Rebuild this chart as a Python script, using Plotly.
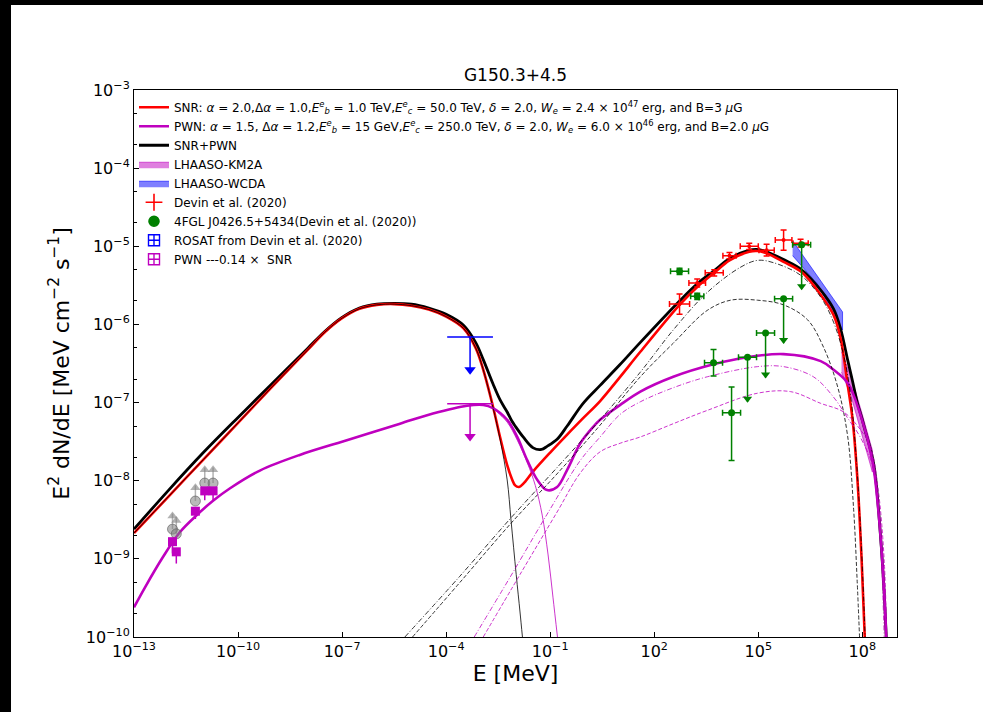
import numpy as np
import plotly.graph_objects as go

# All model curves and data are given as log10(E / MeV) and log10(E^2 dN/dE / MeV cm^-2 s^-1)

# ---- SNR model (total) ----
snr_log_e = [-13.0, -12.0, -11.0, -10.0, -9.0, -8.5, -8.0, -7.5, -7.0, -6.5, -6.0, -5.5, -5.0, -4.5,
             -4.0, -3.5, -3.15, -2.93, -2.65, -2.44, -2.24, -2.10, -2.01, -1.90, -1.78, -1.49,
             -1.00, -0.51, -0.05, 0.44, 1.00, 1.60, 2.73, 3.24, 3.73, 4.17, 4.74, 4.98, 5.24, 5.73,
             6.25, 6.80, 7.17, 7.37, 7.58, 7.72, 7.86, 7.98, 8.07]
snr_log_f = [-8.67, -8.20, -7.73, -7.26, -6.79, -6.56, -6.33, -6.10, -5.92, -5.80, -5.75, -5.74,
             -5.76, -5.81, -5.90, -6.05, -6.30, -6.58, -7.05, -7.45, -7.80, -7.98, -8.06, -8.08,
             -8.04, -7.88, -7.64, -7.41, -7.20, -6.98, -6.68, -6.35, -5.75, -5.52, -5.34, -5.18,
             -5.07, -5.06, -5.09, -5.20, -5.33, -5.62, -5.88, -6.17, -6.78, -7.22, -7.99, -9.01,
             -10.0]

# ---- PWN model (total) ----
pwn_log_e = [-13.0, -12.69, -12.17, -11.68, -11.19, -10.73, -10.24, -9.37, -8.22, -6.77, -5.33,
             -4.38, -3.40, -2.93, -2.65, -2.24, -1.95, -1.66, -1.37, -1.09, -0.80, -0.51, -0.13,
             0.24, 0.44, 1.02, 1.60, 2.55, 3.71, 4.69, 5.73, 6.80, 7.17, 7.58, 7.95, 8.29, 8.46,
             8.61, 8.69]
pwn_log_f = [-9.62, -9.37, -8.98, -8.66, -8.44, -8.26, -8.10, -7.87, -7.67, -7.47, -7.27,
             -7.14, -7.04, -7.03, -7.07, -7.22, -7.44, -7.74, -7.99, -8.12, -8.08, -7.86, -7.52,
             -7.31, -7.22, -7.03, -6.86, -6.67, -6.51, -6.42, -6.38, -6.47, -6.58, -6.75, -7.16,
             -7.74, -8.37, -9.27, -10.0]

# ---- SNR + PWN ----
tot_log_e = [-13.0, -12.0, -11.0, -10.0, -9.0, -8.5, -8.0, -7.5, -7.0, -6.5, -6.0, -5.5, -5.0, -4.5,
             -4.0, -3.5, -3.15, -2.93, -2.65, -2.44, -2.24, -2.10, -2.01, -1.78, -1.49, -1.25,
             -1.09, -0.80, -0.51, -0.05, 0.44, 1.00, 1.60, 2.73, 3.24, 3.73, 4.17, 4.74, 4.98,
             5.24, 5.73, 6.25, 6.80, 7.17, 7.37, 7.58, 7.72, 7.86, 7.98, 8.07, 8.29, 8.38, 8.49,
             8.61, 8.69]
tot_log_f = [-8.62, -8.12, -7.64, -7.19, -6.75, -6.53, -6.31, -6.09, -5.91, -5.79, -5.74, -5.73,
             -5.74, -5.79, -5.87, -6.01, -6.23, -6.45, -6.76, -6.97, -7.12, -7.24, -7.30, -7.44,
             -7.58, -7.60, -7.56, -7.47, -7.30, -7.01, -6.78, -6.52, -6.23, -5.70, -5.48, -5.31,
             -5.16, -5.05, -5.04, -5.07, -5.17, -5.30, -5.56, -5.80, -6.05, -6.46, -6.73, -7.01,
             -7.19, -7.34, -7.70, -7.95, -8.50, -9.27, -10.0]

# ---- SNR components ----
snr_syn_log_e = [-13.0, -12.0, -11.0, -10.0, -9.0, -8.5, -8.0, -7.5, -7.0, -6.5, -6.0, -5.5, -5.0,
                 -4.5, -4.0, -3.5, -3.15, -2.93, -2.65, -2.44, -2.24, -2.13, -1.98, -1.87, -1.80]
snr_syn_log_f = [-8.67, -8.20, -7.73, -7.26, -6.79, -6.56, -6.33, -6.10, -5.92, -5.80, -5.75, -5.74,
                 -5.76, -5.81, -5.90, -6.05, -6.30, -6.58, -7.06, -7.48, -7.99, -8.50, -9.20, -9.68,
                 -10.0]
snr_ic1_log_e = [-5.19, -3.60, -2.10, -0.86, 0.36, 1.60, 2.55, 3.53, 4.48, 4.98, 5.44, 6.22, 6.80,
                 7.17, 7.46, 7.66, 7.83, 7.95, 8.04, 8.08]
snr_ic1_log_f = [-10.0, -9.22, -8.46, -7.86, -7.26, -6.61, -6.07, -5.59, -5.27, -5.18, -5.21,
                 -5.37, -5.65, -5.97, -6.39, -6.90, -7.74, -8.63, -9.53, -10.0]
snr_ic2_log_e = [-4.97, -3.60, -2.10, -0.86, 0.36, 1.60, 2.55, 3.53, 4.20, 4.98, 5.73, 6.42, 6.88,
                 7.29, 7.58, 7.75, 7.85, 7.92]
snr_ic2_log_f = [-10.0, -9.30, -8.53, -7.94, -7.33, -6.67, -6.24, -5.82, -5.69, -5.69, -5.75,
                 -5.94, -6.29, -6.80, -7.44, -8.37, -9.27, -10.0]

# ---- PWN components ----
pwn_syn_log_e = [-13.0, -12.69, -12.17, -11.68, -11.19, -10.73, -10.24, -9.37, -8.22, -6.77, -5.33,
                 -4.38, -3.40, -2.93, -2.65, -2.53, -2.24, -1.95, -1.66, -1.43, -1.23, -1.06,
                 -0.92, -0.79]
pwn_syn_log_f = [-9.62, -9.37, -8.98, -8.66, -8.44, -8.26, -8.10, -7.87, -7.67, -7.47, -7.27,
                 -7.14, -7.04, -7.03, -7.07, -7.12, -7.25, -7.48, -7.77, -8.06, -8.44, -8.95,
                 -9.49, -10.0]
pwn_ic1_log_e = [-3.19, -2.15, -1.09, -0.13, 0.44, 1.02, 1.60, 2.55, 3.53, 4.98, 5.73, 6.59, 7.17,
                 7.58, 7.95, 8.32, 8.49, 8.63]
pwn_ic1_log_f = [-10.0, -9.23, -8.43, -7.74, -7.44, -7.15, -6.99, -6.81, -6.67, -6.54, -6.54,
                 -6.67, -6.93, -7.20, -7.45, -7.84, -8.50, -10.0]
pwn_ic2_log_e = [-2.93, -1.87, -0.80, -0.13, 0.44, 1.02, 1.60, 2.55, 3.53, 4.98, 5.93, 6.80, 7.46,
                 7.95, 8.24, 8.46, 8.63, 8.70]
pwn_ic2_log_f = [-10.0, -9.20, -8.40, -7.90, -7.63, -7.52, -7.44, -7.27, -7.10, -6.88, -6.86,
                 -7.01, -7.12, -7.35, -7.57, -8.12, -9.01, -10.0]

# ---- LHAASO bands ----
km2a_log_e = [7.40, 7.69, 7.98, 8.29]
km2a_log_hi = [-6.35, -6.69, -7.12, -7.61]
km2a_log_lo = [-6.61, -6.94, -7.38, -7.89]
wcda_log_e = [5.99, 6.70, 7.43]
wcda_log_hi = [-4.93, -5.38, -5.84]
wcda_log_lo = [-5.12, -5.48, -6.07]

# ---- Devin et al. (2020) Fermi-LAT points ----
devin_log_e = [2.73, 3.24, 3.73, 4.17, 4.74, 5.24, 5.73, 6.22]
devin_log_f = [-5.74, -5.47, -5.34, -5.12, -5.00, -5.05, -4.92, -4.96]
devin_dex_e = [0.29, 0.24, 0.26, 0.19, 0.26, 0.22, 0.24, 0.22]
devin_dex_f = [0.13, 0.05, 0.04, 0.04, 0.04, 0.075, 0.13, 0.05]

# ---- 4FGL J0426.5+5434 ----
fgl_log_e = [2.73, 3.24, 3.71, 4.23]
fgl_log_f = [-5.32, -5.64, -6.49, -7.13]
fgl_dex_e = [0.26, 0.19, 0.26, 0.26]
fgl_dex_up = [0.04, 0.04, 0.17, 0.33]
fgl_dex_dn = [0.04, 0.04, 0.17, 0.61]
fgl_ul_log_e = [4.69, 5.21, 5.73, 6.25]
fgl_ul_log_f = [-6.42, -6.11, -5.67, -4.98]
fgl_ul_dex_e = [0.26, 0.26, 0.26, 0.26]

# ---- ROSAT upper limit ----
rosat_log_e = [-3.31]
rosat_log_f = [-6.16]
rosat_dex_e = [0.66]
pwn_fraction = 0.14

# ---- radio points ----
radio_log_e = [-11.89, -11.78, -11.23, -10.96, -10.72]
radio_lim_log_f = [-8.62, -8.68, -8.26, -8.03, -8.03]
radio_pwn_log_f = [-8.78, -8.91, -8.39, -8.13, -8.13]
radio_pwn_dex_dn = [0.15, 0.15, 0.10, 0.12, 0.12]
radio_pwn_dex_up = [0.05, 0.05, 0.05, 0.05, 0.05]

MAGENTA = "#bf00bf"
FONT = "DejaVu Sans"


def p10(a):
    return 10.0 ** np.asarray(a, dtype=float)


def dex_err(log_v, up, dn=None):
    v = p10(log_v)
    up = np.asarray(up, dtype=float)
    dn = up if dn is None else np.asarray(dn, dtype=float)
    return v * (10 ** up - 1), v * (1 - 10 ** (-dn))


def curve(log_e, log_f, color, width, dash="solid", name=None, rank=None):
    return go.Scatter(
        x=p10(log_e), y=p10(log_f), mode="lines", name=name,
        showlegend=name is not None, legendrank=rank if rank else 1000,
        line=dict(color=color, width=width, dash=dash, shape="spline", smoothing=1.0),
        hoverinfo="skip")


def legend_glyph(name, rank, marker):
    # legend-only entry with an error-bar-like symbol
    return go.Scatter(x=[None], y=[None], mode="markers", name=name, legendrank=rank,
                      marker=marker, hoverinfo="skip")


fig = go.Figure()

# bands
for log_e, hi, lo, fill, edge, name, rank in [
        (km2a_log_e, km2a_log_hi, km2a_log_lo, "rgba(191,0,191,0.5)", "rgba(191,0,191,0.6)", "LHAASO-KM2A", 4),
        (wcda_log_e, wcda_log_hi, wcda_log_lo, "rgba(0,0,255,0.5)", "rgba(0,0,255,0.6)", "LHAASO-WCDA", 5)]:
    fig.add_trace(go.Scatter(
        x=np.concatenate([p10(log_e), p10(log_e)[::-1]]),
        y=np.concatenate([p10(hi), p10(lo)[::-1]]),
        fill="toself", fillcolor=fill, mode="lines", line=dict(color=edge, width=1),
        name=name, legendrank=rank, hoverinfo="skip"))

# thick model curves
fig.add_trace(curve(tot_log_e, tot_log_f, "black", 2.8, name="SNR+PWN", rank=3))
fig.add_trace(curve(snr_log_e, snr_log_f, "red", 2.6,
                    name="SNR: <i>α</i> = 2.0,Δ<i>α</i> = 1.0,<i>E</i><sup><i>e</i></sup><sub><i>b</i></sub> = 1.0 TeV,"
                         "<i>E</i><sup><i>e</i></sup><sub><i>c</i></sub> = 50.0 TeV, <i>δ</i> = 2.0, "
                         "<i>W</i><sub><i>e</i></sub> = 2.4 × 10<sup>47</sup> erg, and B=3 <i>μ</i>G", rank=1))
fig.add_trace(curve(pwn_log_e, pwn_log_f, MAGENTA, 2.6,
                    name="PWN: <i>α</i> = 1.5, Δ<i>α</i> = 1.2,<i>E</i><sup><i>e</i></sup><sub><i>b</i></sub> = 15 GeV,"
                         "<i>E</i><sup><i>e</i></sup><sub><i>c</i></sub> = 250.0 TeV, <i>δ</i> = 2.0, "
                         "<i>W</i><sub><i>e</i></sub> = 6.0 × 10<sup>46</sup> erg, and B=2.0 <i>μ</i>G", rank=2))

# thin component curves
DASH = "4px,2px"
DASHDOT = "5px,2px,1px,2px"
fig.add_trace(curve(snr_syn_log_e, snr_syn_log_f, "black", 0.8))
fig.add_trace(curve(snr_ic1_log_e, snr_ic1_log_f, "black", 0.8, DASHDOT))
fig.add_trace(curve(snr_ic2_log_e, snr_ic2_log_f, "black", 0.8, DASH))
fig.add_trace(curve(pwn_syn_log_e, pwn_syn_log_f, MAGENTA, 0.8))
fig.add_trace(curve(pwn_ic1_log_e, pwn_ic1_log_f, MAGENTA, 0.8, DASHDOT))
fig.add_trace(curve(pwn_ic2_log_e, pwn_ic2_log_f, MAGENTA, 0.8, DASH))

# Devin et al. points
ex_p, ex_m = dex_err(devin_log_e, devin_dex_e)
ey_p, ey_m = dex_err(devin_log_f, devin_dex_f)
fig.add_trace(go.Scatter(
    x=p10(devin_log_e), y=p10(devin_log_f), mode="markers", showlegend=False,
    marker=dict(color="red", size=4),
    error_x=dict(type="data", symmetric=False, array=ex_p, arrayminus=ex_m, color="red", thickness=1.5, width=3),
    error_y=dict(type="data", symmetric=False, array=ey_p, arrayminus=ey_m, color="red", thickness=1.5, width=3),
    hoverinfo="skip"))
fig.add_trace(legend_glyph("Devin et al. (2020)", 6,
                           dict(symbol="cross-thin-open", size=12, color="red", line=dict(color="red", width=1.6))))

# 4FGL points
ex_p, ex_m = dex_err(fgl_log_e, fgl_dex_e)
ey_p, ey_m = dex_err(fgl_log_f, fgl_dex_up, fgl_dex_dn)
fig.add_trace(go.Scatter(
    x=p10(fgl_log_e), y=p10(fgl_log_f), mode="markers", showlegend=False,
    marker=dict(color="green", size=7),
    error_x=dict(type="data", symmetric=False, array=ex_p, arrayminus=ex_m, color="green", thickness=1.5, width=3),
    error_y=dict(type="data", symmetric=False, array=ey_p, arrayminus=ey_m, color="green", thickness=1.5, width=3),
    hoverinfo="skip"))
fig.add_trace(legend_glyph("4FGL J0426.5+5434(Devin et al. (2020))", 7,
                           dict(symbol="circle-cross", size=10, color="green", line=dict(color="green", width=1.6))))
ARROW_DEX = 0.57
ex_p, ex_m = dex_err(fgl_ul_log_e, fgl_ul_dex_e)
ul_f = p10(fgl_ul_log_f)
fig.add_trace(go.Scatter(
    x=p10(fgl_ul_log_e), y=ul_f, mode="markers", showlegend=False,
    marker=dict(color="green", size=7),
    error_x=dict(type="data", symmetric=False, array=ex_p, arrayminus=ex_m, color="green", thickness=1.5, width=3),
    error_y=dict(type="data", symmetric=False, array=0 * ul_f, arrayminus=ul_f * (1 - 10 ** -ARROW_DEX),
                 color="green", thickness=1.5, width=0),
    hoverinfo="skip"))
fig.add_trace(go.Scatter(
    x=p10(fgl_ul_log_e), y=ul_f * 10 ** -(ARROW_DEX - 0.04), mode="markers", showlegend=False,
    marker=dict(color="green", size=8, symbol="triangle-down"), hoverinfo="skip"))

# ROSAT upper limit and its PWN share
UL_DEX = 0.46
ex_p, ex_m = dex_err(rosat_log_e, rosat_dex_e)
rosat_f = p10(rosat_log_f)
for flux, color, name, rank in [(rosat_f, "blue", "ROSAT from Devin et al. (2020)", 8),
                                (rosat_f * pwn_fraction, MAGENTA, "PWN ---0.14 ×  SNR", 9)]:
    fig.add_trace(go.Scatter(
        x=p10(rosat_log_e), y=flux, mode="markers", showlegend=False,
        marker=dict(color=color, size=1),
        error_x=dict(type="data", symmetric=False, array=ex_p, arrayminus=ex_m, color=color, thickness=1.5, width=0),
        error_y=dict(type="data", symmetric=False, array=0 * flux, arrayminus=flux * (1 - 10 ** -UL_DEX),
                     color=color, thickness=1.5, width=0),
        hoverinfo="skip"))
    fig.add_trace(go.Scatter(
        x=p10(rosat_log_e), y=flux * 10 ** -(UL_DEX - 0.04), mode="markers", showlegend=False,
        marker=dict(color=color, size=10, symbol="triangle-down"), hoverinfo="skip"))
    fig.add_trace(legend_glyph(name, rank, dict(symbol="square-cross-open", size=11, color=color,
                                                line=dict(color=color, width=1.4))))

# radio lower limits (grey) and PWN radio points
LL_DEX = 0.2
lim_f = p10(radio_lim_log_f)
fig.add_trace(go.Scatter(
    x=p10(radio_log_e), y=lim_f, mode="markers", showlegend=False,
    marker=dict(color="rgba(128,128,128,0.55)", size=10, line=dict(color="rgba(90,90,90,0.6)", width=1)),
    error_y=dict(type="data", symmetric=False, array=lim_f * (10 ** LL_DEX - 1), arrayminus=0 * lim_f,
                 color="rgba(128,128,128,0.6)", thickness=1.5, width=0),
    hoverinfo="skip"))
fig.add_trace(go.Scatter(
    x=p10(radio_log_e), y=lim_f * 10 ** (LL_DEX - 0.03), mode="markers", showlegend=False,
    marker=dict(color="rgba(128,128,128,0.6)", size=9, symbol="triangle-up"), hoverinfo="skip"))
ey_p, ey_m = dex_err(radio_pwn_log_f, radio_pwn_dex_up, radio_pwn_dex_dn)
fig.add_trace(go.Scatter(
    x=p10(radio_log_e), y=p10(radio_pwn_log_f), mode="markers", showlegend=False,
    marker=dict(color=MAGENTA, size=9, symbol="square"),
    error_y=dict(type="data", symmetric=False, array=ey_p, arrayminus=ey_m, color=MAGENTA, thickness=1.5, width=0),
    hoverinfo="skip"))

# axes
x_exp = list(range(-13, 9, 3))
y_exp = list(range(-10, -2))


def sci(n):
    return "10<sup>%s</sup>" % (str(n).replace("-", "−"))


fig.update_xaxes(
    type="log", range=[-13, 9], showgrid=False, zeroline=False,
    tickvals=[10.0 ** n for n in x_exp], ticktext=[sci(n) for n in x_exp],
    ticks="inside", ticklen=5, tickwidth=1, tickcolor="black",
    showline=True, mirror=True, linecolor="black", linewidth=1,
    tickfont=dict(size=16, color="black"),
    title=dict(text="E [MeV]", font=dict(size=22, color="black"), standoff=4))
fig.update_yaxes(
    type="log", range=[-10, -3], showgrid=False, zeroline=False,
    tickvals=[10.0 ** n for n in y_exp], ticktext=[sci(n) for n in y_exp],
    ticks="inside", ticklen=5, tickwidth=1, tickcolor="black",
    minor=dict(ticks="inside", ticklen=2.5, tickcolor="black", tickwidth=0.8, showgrid=False),
    showline=True, mirror=True, linecolor="black", linewidth=1,
    tickfont=dict(size=16, color="black"),
    title=dict(text="E<sup>2</sup> dN/dE [MeV cm<sup>−2</sup> s<sup>−1</sup>]",
               font=dict(size=22, color="black"), standoff=10))

# white page area with dark strips on left/top edges
fig.add_shape(type="rect", xref="paper", yref="paper", x0=-0.1612, x1=1.3, y0=-0.3, y1=1.1554,
              fillcolor="white", line=dict(width=0), layer="below")

fig.update_layout(
    width=983, height=712,
    margin=dict(l=134, r=86, t=90, b=75),
    paper_bgcolor="black", plot_bgcolor="white",
    font=dict(family=FONT, color="black"),
    title=dict(text="G150.3+4.5", x=0.5, xref="paper", y=1 - 75 / 712, yref="container",
               xanchor="center", yanchor="middle", font=dict(size=17, color="black")),
    legend=dict(x=0.0, y=0.995, xanchor="left", yanchor="top", bgcolor="rgba(0,0,0,0)",
                font=dict(size=12, color="black"), traceorder="normal", tracegroupgap=0),
    showlegend=True,
)

fig.write_html("out.html")
